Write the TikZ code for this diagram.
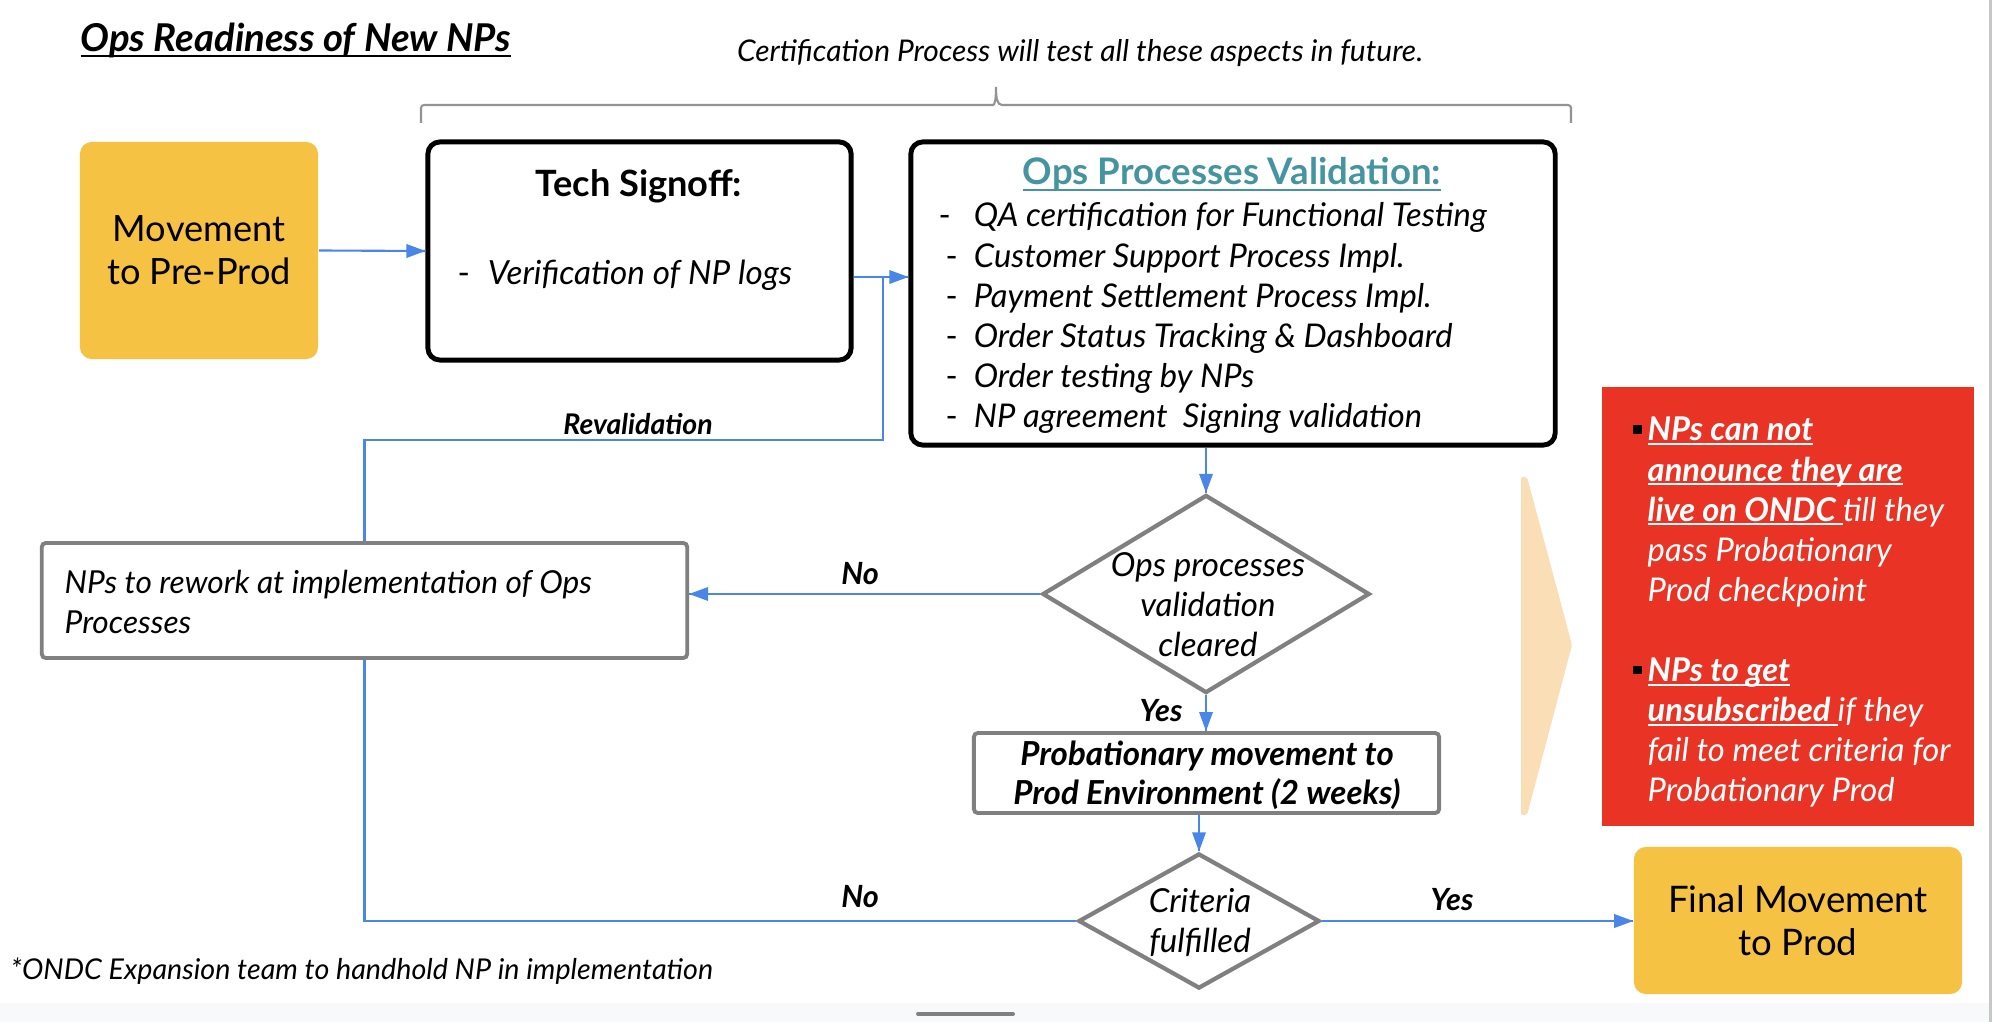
\documentclass[tikz,border=0pt]{standalone}
\usepackage{fontspec}
\setmainfont{Lato}
\usetikzlibrary{shapes.geometric}

\definecolor{npyellow}{RGB}{246,194,67}
\definecolor{npred}{RGB}{233,51,36}
\definecolor{nppeach}{RGB}{249,222,182}
\definecolor{npgrey}{RGB}{128,128,128}
\definecolor{npblue}{RGB}{74,134,232}
\definecolor{npteal}{RGB}{69,149,160}
\definecolor{npstrip}{RGB}{248,249,250}

\newcommand{\npbody}{\fontsize{9.3}{11.4}\selectfont}
\newsavebox{\npulbox}
\newcommand{\npul}[2][1.2pt]{\sbox{\npulbox}{#2}\rlap{\rule[-#1]{\wd\npulbox}{0.6pt}}\usebox{\npulbox}}
\newcommand{\npbullet}{\llap{\textcolor{black}{\rule[2.1pt]{2.4pt}{2.4pt}}\hspace{1.7pt}}}

\begin{document}
\begin{tikzpicture}[x=0.01cm,y=-0.01cm]
    \tikzstyle{every node}+=[inner sep=0pt]
    \tikzstyle{yellowbox}=[fill=npyellow, rounded corners=0.12cm, align=center]
    \tikzstyle{blackbox}=[draw=black, line width=1.4pt, rounded corners=0.12cm]
    \tikzstyle{greybox}=[draw=npgrey, line width=1.1pt, rounded corners=0.04cm]
    \tikzstyle{decision}=[diamond, draw=npgrey, line width=1.2pt]
    \tikzstyle{link}=[npblue, line width=0.6pt]
    \tikzstyle{tag}=[anchor=base, font=\fontsize{8.7}{10}\selectfont\bfseries\itshape]
    \useasboundingbox (0,0) rectangle (1992,1022);
    \fill [npstrip] (0,1003) rectangle (1992,1022);
    \fill [black!22] (1989,0) rectangle (1992,1022);
    \draw [npgrey, line width=1.1pt, line cap=round] (918,1014) -- (1013,1014);
    % heading and bracket
    \node [anchor=base west, font=\fontsize{10.9}{13}\selectfont\bfseries\itshape] (title) at (80,52) {\npul[1.4pt]{Ops Readiness of New NPs}};
    \node [anchor=base, font=\fontsize{8.5}{11}\selectfont\itshape] (cert) at (1080,62) {Certification Process will test all these aspects in future.};
    \draw [npgrey!85, line width=0.6pt] (421,123) [rounded corners=0.03cm] -- (421,105) -- (990,105) [sharp corners] .. controls (995,105) and (996,98) .. (996,87) .. controls (996,98) and (997,105) .. (1002,105) [rounded corners=0.03cm] -- (1571,105) -- (1571,123);
    % boxes
    \node [yellowbox, minimum width=2.38cm, minimum height=2.17cm, font=\fontsize{10.3}{12.2}\selectfont] (preprod) at (199,250.5) {Movement\\to Pre-Prod};
    \node [blackbox, minimum width=4.23cm, minimum height=2.18cm] (tech) at (639.5,251) {};
    \node [anchor=base, font=\fontsize{10.3}{13}\selectfont\bfseries] (techhead) at (639,197) {Tech Signoff:};
    \node [anchor=base west, font=\fontsize{9.45}{12}\selectfont] (techitem) at (457,285) {\makebox[8.6pt][l]{-}\itshape Verification of NP logs};
    \node [blackbox, minimum width=6.44cm, minimum height=3.03cm] (ops) at (1233,293.5) {};
    \node [anchor=base, text=npteal, font=\fontsize{10.4}{12}\selectfont\bfseries] (opshead) at (1232,185) {\npul[1.6pt]{Ops Processes Validation:}};
    \node [anchor=base west, font=\npbody\itshape] (opsitems) at (945,227) {\begin{tabular}[t]{@{}l@{}l@{}}
        \makebox[8pt][l]{\hspace{-2pt}\upshape -} & QA certification for Functional Testing\\
        \makebox[8pt][l]{\upshape -} & Customer Support Process Impl.\\
        \makebox[8pt][l]{\upshape -} & Payment Settlement Process Impl.\\
        \makebox[8pt][l]{\upshape -} & Order Status Tracking \& Dashboard\\
        \makebox[8pt][l]{\upshape -} & Order testing by NPs\\
        \makebox[8pt][l]{\upshape -} & NP agreement\ \ Signing validation
        \end{tabular}};
    \node [greybox, minimum width=6.45cm, minimum height=1.15cm] (rework) at (364.5,600.5) {};
    \node [anchor=base west, font=\fontsize{9.0}{11.4}\selectfont\itshape] (reworktext) at (64,593) {\begin{tabular}[t]{@{}l@{}}NPs to rework at implementation of Ops\\Processes\end{tabular}};
    \node [decision, minimum width=3.27cm, minimum height=1.98cm] (opscheck) at (1206,594) {};
    \node [anchor=base, font=\fontsize{9.4}{11.3}\selectfont\itshape] (opschecktext) at (1208,577) {\begin{tabular}[t]{@{}c@{}}Ops processes\\validation\\cleared\end{tabular}};
    \node [greybox, minimum width=4.65cm, minimum height=0.8cm] (prob) at (1206.5,773) {};
    \node [anchor=base, font=\fontsize{9.4}{11.1}\selectfont\bfseries\itshape] (probtext) at (1207,765) {\begin{tabular}[t]{@{}c@{}}Probationary movement to\\Prod Environment (2 weeks)\end{tabular}};
    \node [decision, minimum width=2.41cm, minimum height=1.35cm] (critcheck) at (1199,921) {};
    \node [anchor=base, font=\fontsize{9.4}{11.4}\selectfont\itshape] (crittext) at (1200,912) {\begin{tabular}[t]{@{}c@{}}Criteria\\fulfilled\end{tabular}};
    \node [yellowbox, minimum width=3.28cm, minimum height=1.47cm, font=\fontsize{10.4}{12.2}\selectfont] (final) at (1798,920.5) {Final Movement\\to Prod};
    % side notes
    \fill [nppeach, rounded corners=0.02cm] (1521,477) -- (1527,477) -- (1572,645) -- (1527,815) -- (1521,815) -- cycle;
    \node [fill=npred, minimum width=3.72cm, minimum height=4.39cm] (rules) at (1788,606.5) {};
    \node [anchor=base west, text=white, font=\npbody\itshape] (rulestext) at (1647,441) {\begin{tabular}[t]{@{}l@{}}
        \npbullet\npul{\bfseries NPs can not}\\
        \npul{\bfseries announce they are}\\
        \npul{\bfseries live on ONDC }till they\\
        pass Probationary\\
        Prod checkpoint\\
        \\
        \npbullet\npul{\bfseries NPs to get}\\
        \npul{\bfseries unsubscribed }if they\\
        fail to meet criteria for\\
        Probationary Prod
        \end{tabular}};
    \node [anchor=base west, font=\fontsize{8.15}{10}\selectfont\itshape] (footnote) at (10,979) {*ONDC Expansion team to handhold NP in implementation};
    % connectors
    \coordinate (join) at (883,277);
    \coordinate (reval) at (883,440);
    \draw [link] (preprod.east) -- (tech.west);
    \fill [npblue] (tech.west) -- ++(-19,-7) -- ++(0,14) -- cycle;
    \draw [link] (tech.east |- join) -- (ops.west |- join);
    \fill [npblue] (ops.west |- join) -- ++(-19,-7) -- ++(0,14) -- cycle;
    \draw [link] (rework.north) |- (reval) -- (join);
    \node [tag, font=\fontsize{8.1}{9}\selectfont\bfseries\itshape] (revaltag) at (638,435) {Revalidation};
    \draw [link] (ops.south -| opscheck.north) -- (opscheck.north);
    \fill [npblue] (opscheck.north) -- ++(-7,-19) -- ++(14,0) -- cycle;
    \draw [link] (opscheck.west) -- (opscheck.west -| rework.east);
    \fill [npblue] (opscheck.west -| rework.east) -- ++(19,-7) -- ++(0,14) -- cycle;
    \node [tag] (notag) at (860,584) {No};
    \draw [link] (opscheck.south) -- (opscheck.south |- prob.north);
    \fill [npblue] (opscheck.south |- prob.north) -- ++(-7,-19) -- ++(14,0) -- cycle;
    \node [tag] (yestag) at (1161,721) {Yes};
    \draw [link] (prob.south -| critcheck.north) -- (critcheck.north);
    \fill [npblue] (critcheck.north) -- ++(-7,-19) -- ++(14,0) -- cycle;
    \draw [link] (critcheck.east) -- (critcheck.east -| final.west);
    \fill [npblue] (critcheck.east -| final.west) -- ++(-19,-7) -- ++(0,14) -- cycle;
    \node [tag] (finalyestag) at (1452,910) {Yes};
    \draw [link] (rework.south) |- (critcheck.west);
    \node [tag] (finalnotag) at (860,907) {No};
\end{tikzpicture}
\end{document}
